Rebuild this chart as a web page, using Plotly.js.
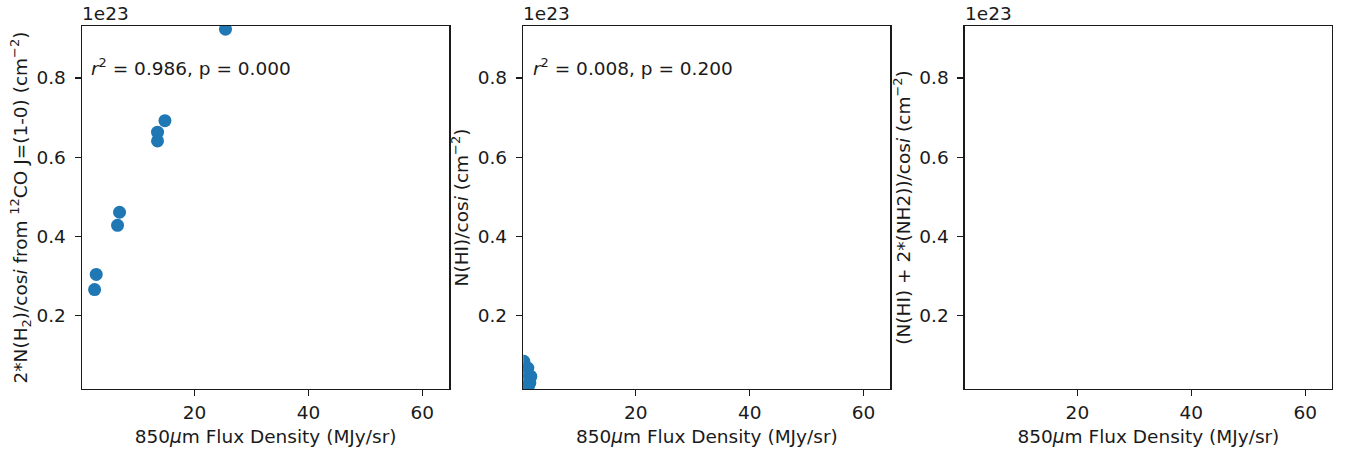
<!DOCTYPE html>
<html>
<head>
<meta charset="utf-8">
<script src="https://cdn.plot.ly/plotly-3.0.1.min.js"></script>
<style>
  html, body { margin: 0; padding: 0; background: #fff; }
  #chart { width: 1346px; height: 453px; }
</style>
</head>
<body>
<div id="chart"></div>
<script>
// 850 micron flux density (MJy/sr) against column densities per region

// Panel 1: molecular gas from 12CO J=(1-0)
const fluxCO = [2.46, 2.75, 6.49, 6.84, 13.51, 13.51, 14.81, 25.44];
const colH2 = [2.66e22, 3.04e22, 4.28e22, 4.61e22, 6.41e22, 6.63e22, 6.92e22, 9.23e22];

// Panel 2: atomic gas
const fluxHI = [0.35, 0.53, 1.05, 1.58, 1.40, 0.70, 0.20, 1.10];
const colHI = [0.85e22, 0.58e22, 0.68e22, 0.47e22, 0.30e22, 0.22e22, 0.37e22, 0.20e22];

// Panel 3: total gas (no points within range)
const fluxTot = [];
const colTot = [];

const fitStats = ['<i>r</i><sup>2</sup> = 0.986, p = 0.000', '<i>r</i><sup>2</sup> = 0.008, p = 0.200'];

const xTicks = [20, 40, 60];
const yTicks = [2e22, 4e22, 6e22, 8e22];
const yTickText = ['0.2', '0.4', '0.6', '0.8'];
const offsetLabel = '1e23';

const yTitles = [
  '2*N(H<sub>2</sub>)/cos<i>i</i> from <sup>12</sup>CO J=(1-0) (cm<sup>\u22122</sup>)',
  'N(HI)/cos<i>i</i> (cm<sup>\u22122</sup>)',
  '(N(HI) + 2*(NH2))/cos<i>i</i> (cm<sup>\u22122</sup>)'
];
const xTitle = '850<i>\u03bc</i>m Flux Density (MJy/sr)';

const blue = '#1f77b4';
const ink = '#1a1a1a';
const fontFam = 'DejaVu Sans, sans-serif';
const fs = 18.5;

const traces = [
  { x: fluxCO, y: colH2, xaxis: 'x', yaxis: 'y' },
  { x: fluxHI, y: colHI, xaxis: 'x2', yaxis: 'y2' },
  { x: fluxTot, y: colTot, xaxis: 'x3', yaxis: 'y3' }
].map(t => Object.assign(t, {
  type: 'scatter', mode: 'markers', cliponaxis: true, showlegend: false,
  marker: { color: blue, size: 13, line: { width: 0 } }
}));

const domains = [[0, 0.2937], [0.353, 0.6467], [0.7063, 1.0]];

function xAxis(i) {
  return {
    domain: domains[i], anchor: i === 0 ? 'y' : 'y' + (i + 1),
    range: [0.25, 64.7], tickmode: 'array', tickvals: xTicks,
    showgrid: false, zeroline: false, showline: true, mirror: true,
    linecolor: ink, linewidth: 1.4, ticks: 'outside', ticklen: 6, tickwidth: 1.3, tickcolor: ink,
    tickfont: { family: fontFam, size: fs, color: ink },
    title: { text: xTitle, font: { family: fontFam, size: fs, color: ink }, standoff: 8 }
  };
}
function yAxis(i) {
  return {
    domain: [0, 1], anchor: i === 0 ? 'x' : 'x' + (i + 1),
    range: [1.5e21, 9.31e22], tickmode: 'array', tickvals: yTicks, ticktext: yTickText,
    showgrid: false, zeroline: false, showline: true, mirror: true,
    linecolor: ink, linewidth: 1.4, ticks: 'outside', ticklen: 6, tickwidth: 1.3, tickcolor: ink,
    ticklabelstandoff: 5,
    tickfont: { family: fontFam, size: fs, color: ink },
    title: { text: yTitles[i], font: { family: fontFam, size: fs, color: ink }, standoff: 4 }
  };
}

const annotations = [];
for (let i = 0; i < 3; i++) {
  const sx = i === 0 ? '' : String(i + 1);
  annotations.push({
    xref: 'x' + sx + ' domain', yref: 'y' + sx + ' domain', x: 0, y: 1,
    xanchor: 'left', yanchor: 'bottom', xshift: -2, yshift: 0,
    text: offsetLabel, showarrow: false,
    font: { family: fontFam, size: fs, color: ink }
  });
  if (i < 2) {
    annotations.push({
      xref: 'x' + sx + ' domain', yref: 'y' + sx + ' domain', x: 0.02, y: 0.887,
      xanchor: 'left', yanchor: 'middle',
      text: fitStats[i], showarrow: false,
      font: { family: fontFam, size: fs, color: ink }
    });
  }
}

const layout = {
  width: 1346, height: 453,
  margin: { l: 82, r: 14, t: 26, b: 64 },
  paper_bgcolor: '#fff', plot_bgcolor: '#fff',
  font: { family: fontFam, size: fs, color: ink },
  xaxis: xAxis(0), yaxis: yAxis(0),
  xaxis2: xAxis(1), yaxis2: yAxis(1),
  xaxis3: xAxis(2), yaxis3: yAxis(2),
  annotations: annotations
};

Plotly.newPlot('chart', traces, layout, { displayModeBar: false, staticPlot: true });
</script>
</body>
</html>
